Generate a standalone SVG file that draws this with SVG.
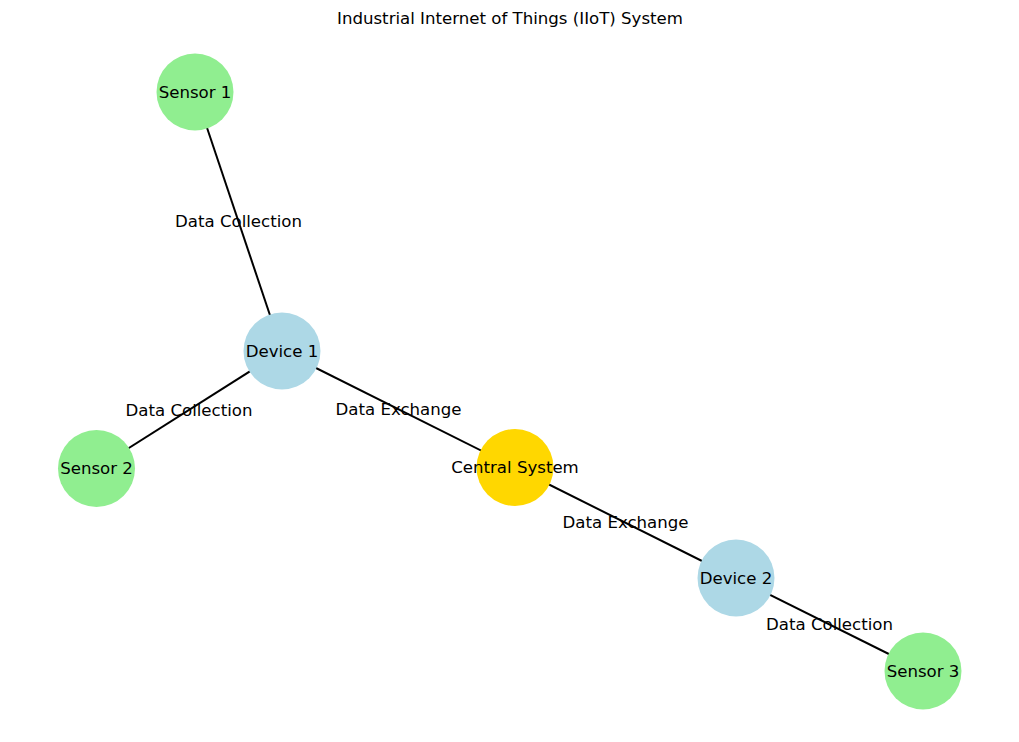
<svg xmlns="http://www.w3.org/2000/svg" width="1019" height="742" viewBox="0 0 1019 742">
<style>
text{font-family:"DejaVu Sans","Liberation Sans",sans-serif;font-size:16.6px;fill:#000;text-anchor:middle;dominant-baseline:central}
.e{stroke:#000;stroke-width:2;fill:none}
.s{fill:#90ee90}.d{fill:#add8e6}.c{fill:#ffd700}
</style>
<rect width="1019" height="742" fill="#fff"/>
<text x="510" y="18">Industrial Internet of Things (IIoT) System</text>
<g id="connectors">
<line class="e" x1="195" y1="92" x2="282" y2="351"/>
<line class="e" x1="282" y1="351" x2="96.5" y2="468.5"/>
<line class="e" x1="282" y1="351" x2="515" y2="467.5"/>
<line class="e" x1="515" y1="467.5" x2="736" y2="578"/>
<line class="e" x1="736" y1="578" x2="923" y2="671"/>
<text x="238.5" y="221">Data Collection</text>
<text x="189" y="410">Data Collection</text>
<text x="398.5" y="409">Data Exchange</text>
<text x="625.5" y="522">Data Exchange</text>
<text x="829.5" y="624">Data Collection</text>
</g>
<g id="sensor1"><circle class="s" cx="195" cy="92" r="38.5"/><text x="195" y="92">Sensor 1</text></g>
<g id="device1"><circle class="d" cx="282" cy="351" r="38.5"/><text x="282" y="351">Device 1</text></g>
<g id="sensor2"><circle class="s" cx="96.5" cy="468.5" r="38.5"/><text x="96.5" y="468.5">Sensor 2</text></g>
<g id="central"><circle class="c" cx="515" cy="467.5" r="38.5"/><text x="515" y="467.5">Central System</text></g>
<g id="device2"><circle class="d" cx="736" cy="578" r="38.5"/><text x="736" y="578">Device 2</text></g>
<g id="sensor3"><circle class="s" cx="923" cy="671" r="38.5"/><text x="923" y="671">Sensor 3</text></g>
</svg>
